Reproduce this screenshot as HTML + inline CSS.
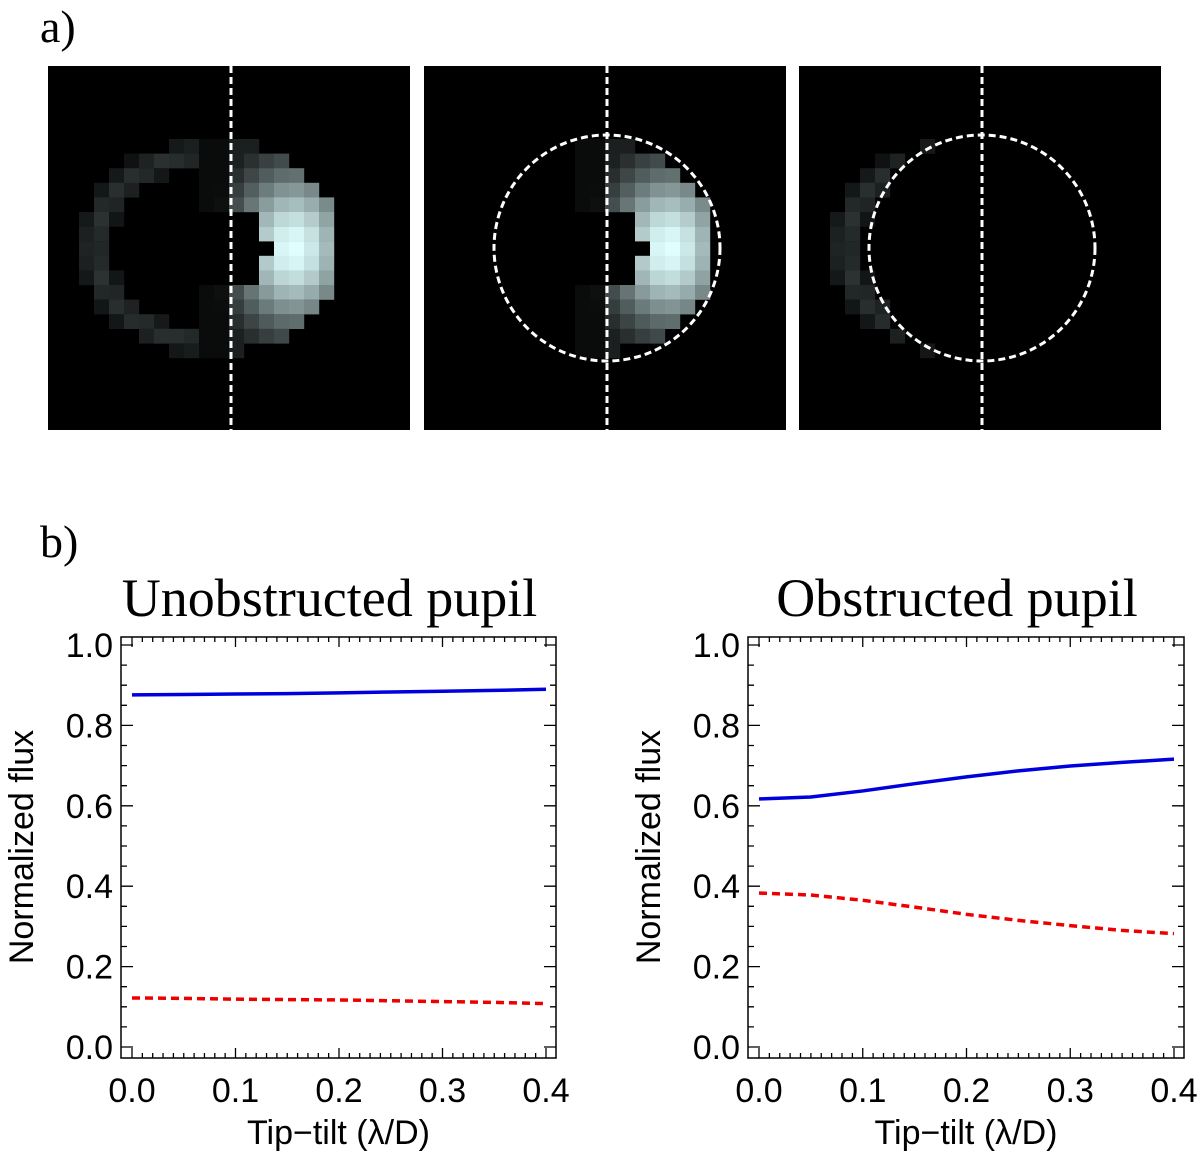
<!DOCTYPE html>
<html><head><meta charset="utf-8"><style>
body{margin:0;background:#fff;width:1200px;height:1156px;overflow:hidden}
svg{display:block}
.serif{font-family:"Liberation Serif",serif}
.sans{font-family:"Liberation Sans",sans-serif}
</style></head><body>
<svg id="fig" width="1200" height="1156" viewBox="0 0 1200 1156">
<text x="40" y="42" class="serif" font-size="46">a)</text>
<text x="40" y="557" class="serif" font-size="46">b)</text>
<g id="imgs"></g>
<g id="charts"></g>
</svg>
<script>
// ---- chart data ----
const tipTilt = [0, 0.05, 0.1, 0.15, 0.2, 0.25, 0.3, 0.35, 0.4];
const unobBlue = [0.876, 0.877, 0.878, 0.879, 0.881, 0.883, 0.885, 0.887, 0.890];
const unobRed = [0.122, 0.121, 0.119, 0.118, 0.117, 0.115, 0.113, 0.111, 0.108];
const obBlue = [0.617, 0.622, 0.637, 0.655, 0.672, 0.687, 0.699, 0.708, 0.716];
const obRed = [0.383, 0.378, 0.365, 0.348, 0.330, 0.315, 0.302, 0.290, 0.282];
const xTicks = [0.0, 0.1, 0.2, 0.3, 0.4];
const yTicks = [0.0, 0.2, 0.4, 0.6, 0.8, 1.0];
const chartTitles = ["Unobstructed pupil", "Obstructed pupil"];

const NS = "http://www.w3.org/2000/svg";
function mk(tag, attrs, parent){const e=document.createElementNS(NS,tag);for(const k in attrs)e.setAttribute(k,attrs[k]);parent.appendChild(e);return e;}

// ---- pupil images ----
const imgs = document.getElementById('imgs');
const panelX = [48, 424, 799];
panelX.forEach((px, pi) => {
  const g = mk('g', {}, imgs);
  
  
  mk('rect', {x: px, y: 66, width: 362, height: 364, fill: '#000'}, g);
  const cx = px + 160, cy = 248, vx = px + 183;
  const ccx = px + 183, cr = 113;
  for (let i = 0; i < 24; i++) for (let j = 0; j < 25; j++) {
    const x = px + 1 + i * 15, y = 66 + j * 14.6;
    const mx = x + 7.5, my = y + 7.3;
    const dx = (mx - cx) / 130, dy = (my - cy) / 108;
    const r = Math.sqrt(dx * dx + dy * dy);
    let v = 0, dim = false;
    if (r < 1.0) {
      if (mx < vx - 25) { dim = true; if (r > 0.74) v = 0.2 * (1 - Math.abs(r - 0.87) / 0.2); }
      else {
        const nx = (mx - (vx + 5)) / 32, ny = (my - cy) / 40;
        const inNotch = nx * nx + ny * ny < 1;
        if (!inNotch && (mx >= vx || Math.abs(my - cy) > 40)) {
          const bx = (mx - (px + 245)) / 60, by = (my - cy) / 80;
          v = Math.max(0.12, Math.exp(-(bx * bx + by * by)));
          if (mx < vx) v *= 0.35;
        }
      }
    }
    const inCircle = Math.hypot(mx - ccx, my - cy) < cr;
    if (pi === 1 && (dim || !inCircle)) v = 0;
    if (pi === 2) { if (!dim || inCircle) v = 0; }
    if (v > 0.03) {
      const c = Math.round(v * 255);
      mk('rect', {x: x, y: y, width: 15.2, height: 14.8, fill: `rgb(${Math.round(c*0.88)},${c},${c})`}, g);
    }
  }
  const vl = mk('line', {x1: vx, y1: 66, x2: vx, y2: 430, stroke: '#fff', 'stroke-width': 3, 'stroke-dasharray': '7,4'}, g);
  
  
  if (pi > 0) {
    const c = mk('circle', {cx: ccx, cy: cy, r: cr, fill: 'none', stroke: '#fff', 'stroke-width': 3, 'stroke-dasharray': '7,4'}, g);
    
    
  }
});

// ---- charts ----
const charts = document.getElementById('charts');
const frames = [{l: 121, r: 556}, {l: 748, r: 1184}];
const plotTop = 637, plotBot = 1058, yZero = 1047, yOne = 645;
const seriesSets = [[unobBlue, unobRed], [obBlue, obRed]];
frames.forEach((f, ci) => {
  const g = mk('g', {}, charts);
  
  
  const xs = v => (f.l + 11) + v / 0.4 * ((f.r - 10) - (f.l + 11));
  const ys = v => yZero + v * (yOne - yZero);
  const t = mk('text', {x: (f.l + f.r) / 2 - 9, y: 616, 'text-anchor': 'middle', 'font-size': 54, class: 'serif'}, g);
  t.textContent = chartTitles[ci];
  
  
  const fr = mk('rect', {x: f.l, y: plotTop, width: f.r - f.l, height: plotBot - plotTop, fill: 'none', stroke: '#000', 'stroke-width': 1.5}, g);
  
  
  let d = '';
  for (let k = 0; k <= 40; k++) {
    const v = k / 100, x = xs(v), len = k % 10 === 0 ? 10 : 5;
    d += `M${x},${plotBot}v${-len}M${x},${plotTop}v${len}`;
  }
  for (let k = 0; k <= 20; k++) {
    const v = k / 20, y = ys(v), len = k % 4 === 0 ? 12 : 6;
    d += `M${f.l},${y}h${len}M${f.r},${y}h${-len}`;
  }
  const tk = mk('path', {d: d, stroke: '#000', 'stroke-width': 1.3, fill: 'none'}, g);
  
  
  xTicks.forEach(v => {
    const e = mk('text', {x: xs(v), y: 1102, 'text-anchor': 'middle', 'font-size': 34, class: 'sans'}, g);
    e.textContent = v.toFixed(1);
    
    
  });
  yTicks.forEach(v => {
    const e = mk('text', {x: f.l - 8, y: ys(v) + 12, 'text-anchor': 'end', 'font-size': 34, class: 'sans'}, g);
    e.textContent = v.toFixed(1);
    
    
  });
  const xl = mk('text', {x: (f.l + f.r) / 2, y: 1144, 'text-anchor': 'middle', 'font-size': 34, class: 'sans'}, g);
  xl.textContent = 'Tip\u2212tilt (\u03bb/D)';
  
  
  const ylx = f.l - 88;
  const yl = mk('text', {x: ylx, y: 847, 'text-anchor': 'middle', 'font-size': 34, class: 'sans', transform: `rotate(-90 ${ylx} 847)`}, g);
  yl.textContent = 'Normalized flux';
  
  
  const blue = seriesSets[ci][0], red = seriesSets[ci][1];
  const pb = mk('path', {d: blue.map((v, i) => (i ? 'L' : 'M') + xs(tipTilt[i]) + ',' + ys(v)).join(''), stroke: '#0000dd', 'stroke-width': 3.5, fill: 'none'}, g);
  
  
  const pr = mk('path', {d: red.map((v, i) => (i ? 'L' : 'M') + xs(tipTilt[i]) + ',' + ys(v)).join(''), stroke: '#ee0000', 'stroke-width': 3.5, fill: 'none', 'stroke-dasharray': '8,5'}, g);
  
  
});
</script>
</body></html>
